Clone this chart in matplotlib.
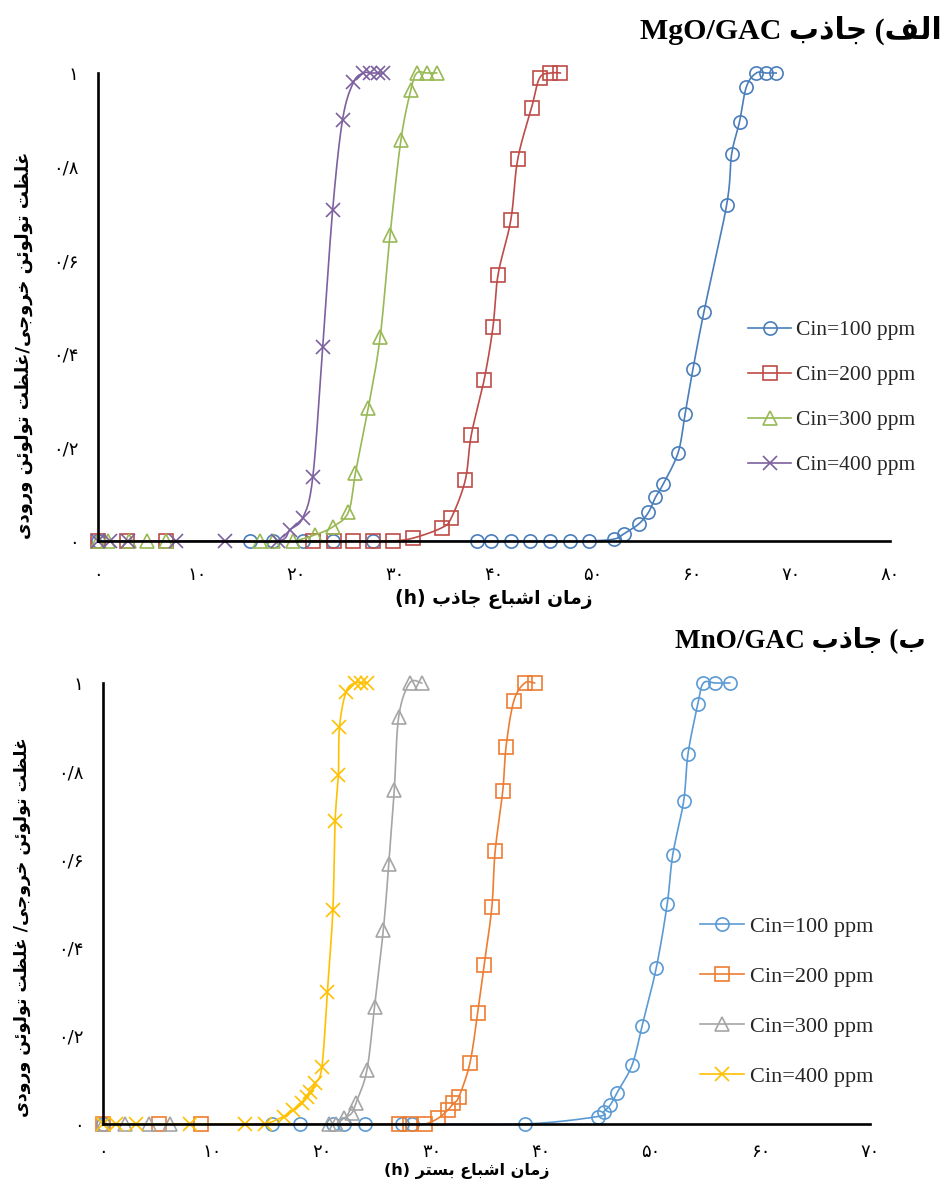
import numpy as np
import matplotlib.pyplot as plt
from matplotlib.lines import Line2D

# ---- data: MgO/GAC (top), time in h, C/C0 ----
mgo_t100 = [0, 15.4, 17.7, 20.7, 23.7, 27.8, 38.3, 39.7, 41.7, 43.6, 45.7, 47.7, 49.6,
            52.1, 53.1, 54.6, 55.6, 56.3, 57.1, 58.6, 59.3, 60.1, 61.2,
            63.5, 64.0, 64.8, 65.5, 66.5, 67.5, 68.5]
mgo_c100 = [0, 0, 0, 0, 0, 0, 0, 0, 0, 0, 0, 0, 0,
            0.004, 0.015, 0.036, 0.061, 0.093, 0.122, 0.189, 0.271, 0.368, 0.489,
            0.718, 0.826, 0.896, 0.971, 1, 1, 1]
mgo_t200 = [0, 2.9, 6.9, 21.7, 23.8, 25.8, 27.8, 29.8, 31.8, 34.7, 35.7, 37.1, 37.7,
            39.0, 39.9, 40.4, 41.7, 42.4, 43.8, 44.6, 45.7, 46.7]
mgo_c200 = [0, 0, 0, 0, 0, 0, 0, 0, 0.006, 0.028, 0.05, 0.13, 0.226,
            0.344, 0.458, 0.568, 0.686, 0.816, 0.926, 0.989, 1, 1]
mgo_t300 = [0, 1.0, 3.1, 4.9, 6.9, 16.4, 17.7, 19.7, 21.9, 23.7, 25.3, 26.0, 27.3,
            28.5, 29.5, 30.6, 31.6, 32.2, 33.2, 34.2]
mgo_c300 = [0, 0, 0, 0, 0, 0, 0, 0, 0.013, 0.03, 0.062, 0.145, 0.284,
            0.436, 0.654, 0.857, 0.964, 1, 1, 1]
mgo_t400 = [0, 1.2, 3.0, 7.9, 12.8, 18.2, 19.4, 20.7, 21.7, 22.7, 23.7, 24.7, 25.8,
            26.8, 27.5, 28.3, 28.8]
mgo_c400 = [0, 0, 0, 0, 0, 0, 0.024, 0.05, 0.137, 0.415, 0.707, 0.90, 0.98,
            1, 1, 1, 1]

# ---- data: MnO/GAC (bottom) ----
mno_t100 = [0, 15.4, 18.0, 21.0, 22.0, 23.9, 27.3, 28.2, 38.5, 45.2, 45.7, 46.3, 46.9,
            48.3, 49.2, 50.5, 51.5, 52.0, 53.0, 53.4, 54.3, 54.8, 55.9, 57.2]
mno_c100 = [0, 0, 0, 0, 0, 0, 0, 0, 0, 0.017, 0.028, 0.043, 0.07,
            0.134, 0.222, 0.354, 0.499, 0.61, 0.732, 0.84, 0.953, 1, 1, 1]
mno_t200 = [0, 5.1, 9.0, 27.0, 28.0, 29.4, 30.6, 31.5, 32.0, 32.5, 33.5, 34.2, 34.8,
            35.5, 35.8, 36.5, 36.8, 37.5, 38.5, 39.4]
mno_c200 = [0, 0, 0, 0, 0, 0, 0.013, 0.032, 0.047, 0.062, 0.138, 0.251, 0.361,
            0.491, 0.618, 0.756, 0.856, 0.959, 1, 1]
mno_t300 = [0, 2.0, 4.2, 6.1, 20.6, 21.3, 22.0, 22.7, 23.1, 24.1, 24.8, 25.6, 26.1,
            26.6, 27.0, 28.0, 29.1]
mno_c300 = [0, 0, 0, 0, 0, 0, 0.013, 0.024, 0.047, 0.122, 0.266, 0.44, 0.59,
            0.757, 0.923, 1, 1]
mno_t400 = [0, 1.2, 3.0, 8.0, 13.0, 14.8, 16.5, 17.4, 18.2, 18.6, 18.9, 19.4, 20.0,
            20.5, 21.0, 21.2, 21.5, 21.6, 22.2, 23.0, 23.6, 24.1]
mno_c400 = [0, 0, 0, 0, 0, 0, 0.017, 0.032, 0.047, 0.062, 0.073, 0.092, 0.13,
            0.30, 0.485, 0.686, 0.791, 0.90, 0.98, 1, 1, 1]

labels = ['Cin=100 ppm', 'Cin=200 ppm', 'Cin=300 ppm', 'Cin=400 ppm']
markers = ['o', 's', '^', 'x']
colors_top = ['#4A7EBB', '#BE4B48', '#98B954', '#7D60A0']
colors_bot = ['#5B9BD5', '#ED7D31', '#A5A5A5', '#FFC000']

# ---- minimal persian shaping (matplotlib has no RTL / joining) ----
# isolated, final, initial, medial
FORMS = {
    'ا': ('\uFE8D', '\uFE8E', None, None),
    'ب': ('\uFE8F', '\uFE90', '\uFE91', '\uFE92'),
    'ت': ('\uFE95', '\uFE96', '\uFE97', '\uFE98'),
    'ج': ('\uFE9D', '\uFE9E', '\uFE9F', '\uFEA0'),
    'خ': ('\uFEA5', '\uFEA6', '\uFEA7', '\uFEA8'),
    'د': ('\uFEA9', '\uFEAA', None, None),
    'ذ': ('\uFEAB', '\uFEAC', None, None),
    'ر': ('\uFEAD', '\uFEAE', None, None),
    'ز': ('\uFEAF', '\uFEB0', None, None),
    'س': ('\uFEB1', '\uFEB2', '\uFEB3', '\uFEB4'),
    'ش': ('\uFEB5', '\uFEB6', '\uFEB7', '\uFEB8'),
    'ظ': ('\uFEC5', '\uFEC6', '\uFEC7', '\uFEC8'),
    'ع': ('\uFEC9', '\uFECA', '\uFECB', '\uFECC'),
    'غ': ('\uFECD', '\uFECE', '\uFECF', '\uFED0'),
    'ف': ('\uFED1', '\uFED2', '\uFED3', '\uFED4'),
    'ل': ('\uFEDD', '\uFEDE', '\uFEDF', '\uFEE0'),
    'م': ('\uFEE1', '\uFEE2', '\uFEE3', '\uFEE4'),
    'ن': ('\uFEE5', '\uFEE6', '\uFEE7', '\uFEE8'),
    'و': ('\uFEED', '\uFEEE', None, None),
    'ئ': ('\uFE89', '\uFE8A', '\uFE8B', '\uFE8C'),
    'ی': ('\uFEEF', '\uFEF0', '\uFEF3', '\uFEF4'),
}


def fa(text):
    out = []
    for i, ch in enumerate(text):
        f = FORMS.get(ch)
        if f is None:
            out.append({'(': ')', ')': '('}.get(ch, ch))
            continue
        prev = text[i - 1] if i > 0 else ''
        nxt = text[i + 1] if i < len(text) - 1 else ''
        jp = prev in FORMS and FORMS[prev][2] is not None
        jn = f[2] is not None and nxt in FORMS
        if jp and jn:
            out.append(f[3])
        elif jp:
            out.append(f[1])
        elif jn:
            out.append(f[2])
        else:
            out.append(f[0])
    return ''.join(reversed(out))


def fa_num(s):
    return ''.join('۰۱۲۳۴۵۶۷۸۹'[int(c)] if c.isdigit() else c for c in s)


def smooth(x, y, n=24):
    # excel-like smoothed line (bezier through points)
    x = np.asarray(x, float)
    y = np.asarray(y, float)
    px = np.concatenate([[x[0]], x, [x[-1]]])
    py = np.concatenate([[y[0]], y, [y[-1]]])
    t = np.linspace(0, 1, n)[:, None]
    xs, ys = [], []
    for i in range(1, len(px) - 2):
        p0 = np.array([px[i - 1], py[i - 1]])
        p1 = np.array([px[i], py[i]])
        p2 = np.array([px[i + 1], py[i + 1]])
        p3 = np.array([px[i + 2], py[i + 2]])
        c1 = p1 + (p2 - p0) / 6
        c2 = p2 - (p3 - p1) / 6
        b = ((1 - t) ** 3) * p1 + 3 * ((1 - t) ** 2) * t * c1 + 3 * (1 - t) * t ** 2 * c2 + t ** 3 * p2
        xs.extend(b[:, 0])
        ys.extend(b[:, 1])
    return xs, ys


FONT = ['DejaVu Sans']
W, H = 949, 1183
fig = plt.figure(figsize=(W / 100, H / 100), dpi=100)
fig.patch.set_facecolor('white')

ax1 = fig.add_axes([98 / W, 1 - 541 / H, 792 / W, 468 / H])
ax2 = fig.add_axes([102.7 / W, 1 - 1124 / H, 767.3 / W, 441 / H])

panels = [
    (ax1, [(mgo_t100, mgo_c100), (mgo_t200, mgo_c200), (mgo_t300, mgo_c300), (mgo_t400, mgo_c400)],
     colors_top, 80, 18),
    (ax2, [(mno_t100, mno_c100), (mno_t200, mno_c200), (mno_t300, mno_c300), (mno_t400, mno_c400)],
     colors_bot, 70, 14),
]

for ax, series, cols, xmax, xpad in panels:
    for (t, c), col, mk in zip(series, cols, markers):
        sx, sy = smooth(t, c)
        ax.plot(sx, sy, color=col, lw=1.2, clip_on=False)
        ax.plot(t, c, ls='none', marker=mk, ms=9.5 if mk != 'x' else 10.5, mfc='none',
                mec=col, mew=1.2, clip_on=False)
    ax.set_xlim(0, xmax)
    ax.set_ylim(0, 1)
    for s in ['top', 'right']:
        ax.spines[s].set_visible(False)
    for s in ['left', 'bottom']:
        ax.spines[s].set_linewidth(1.9)
        ax.spines[s].set_color('black')
    xt = np.arange(0, xmax + 1, 10)
    ax.set_xticks(xt)
    ax.set_xticklabels([fa_num(str(v)) for v in xt], family=FONT, fontsize=13)
    yt = [0, 0.2, 0.4, 0.6, 0.8, 1]
    ax.set_yticks(yt)
    ax.set_yticklabels([fa_num(s) for s in ['0', '0/2', '0/4', '0/6', '0/8', '1']],
                       family=FONT, fontsize=13)
    ax.tick_params(axis='x', length=0, pad=xpad)
    ax.tick_params(axis='y', length=0, pad=14)

    handles = [Line2D([], [], color=col, lw=1.2, marker=mk, ms=9.5 if mk != 'x' else 10.5,
                      mfc='none', mec=col, mew=1.2) for col, mk in zip(cols, markers)]
    if ax is ax1:
        anchor = (748 / W, 1 - 320 / H)
        fs, sp = 15.5, 1.16
    else:
        anchor = (700 / W, 1 - 916 / H)
        fs, sp = 16, 1.33
    leg = ax.legend(handles, labels, loc='upper left', bbox_to_anchor=anchor,
                    bbox_transform=fig.transFigure, frameon=False, borderpad=0,
                    borderaxespad=0, handlelength=2.0, handletextpad=0.25, labelspacing=sp,
                    prop={'family': 'Liberation Serif', 'size': fs})
    for txt in leg.get_texts():
        txt.set_color('#262626')

# titles
fig.text(640 / W, 1 - 30 / H, 'MgO/GAC ' + fa('الف) جاذب'), ha='left', va='center',
         family=['Liberation Serif', 'DejaVu Sans'], weight='bold', fontsize=21.5)
fig.text(675 / W, 1 - 640 / H, 'MnO/GAC ' + fa('ب) جاذب'), ha='left', va='center',
         family=['Liberation Serif', 'DejaVu Sans'], weight='bold', fontsize=19.5)

# axis titles
fig.text(494 / W, 1 - 599 / H, '(h) ' + fa('زمان اشباع جاذب'), ha='center', va='center',
         family=FONT, weight='bold', fontsize=13.5)
fig.text(467 / W, 1 - 1171 / H, '(h) ' + fa('زمان اشباع بستر'), ha='center', va='center',
         family=FONT, weight='bold', fontsize=11.5)
fig.text(24 / W, 1 - 345 / H, fa('غلظت تولوئن خروجی/غلظت تولوئن ورودی'), rotation=90,
         ha='center', va='center', family=FONT, weight='bold', fontsize=13)
fig.text(22 / W, 1 - 927 / H, fa('غلظت تولوئن خروجی/ غلظت تولوئن ورودی'), rotation=90,
         ha='center', va='center', family=FONT, weight='bold', fontsize=12.5)

fig.savefig('out.png', dpi=100, facecolor='white')
